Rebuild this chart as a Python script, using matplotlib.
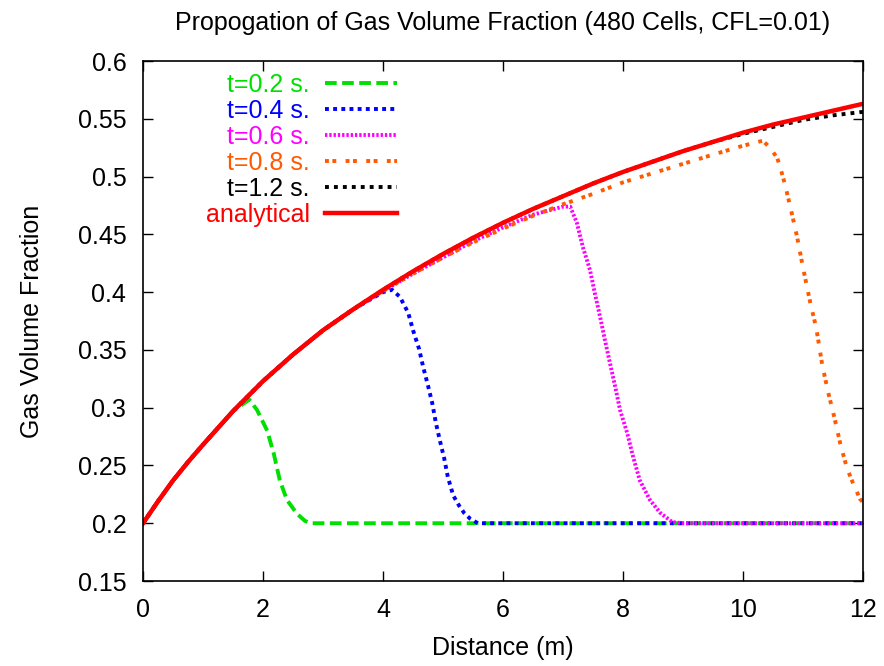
import matplotlib
matplotlib.use("Agg")
import matplotlib.pyplot as plt

plt.rcParams['font.family'] = ['Liberation Sans', 'DejaVu Sans']

# analytical profile
x_an = [0, 0.25, 0.5, 0.75, 1, 1.5, 2, 2.5, 3, 3.5, 4, 4.5, 5, 5.5, 6, 6.5,
        7, 7.5, 8, 8.5, 9, 9.5, 10, 10.5, 11, 11.5, 12]
y_an = [0.2, 0.219, 0.237, 0.253, 0.268, 0.297, 0.323, 0.346, 0.367, 0.385,
        0.402, 0.418, 0.433, 0.447, 0.460, 0.472, 0.483, 0.494, 0.504, 0.513,
        0.522, 0.530, 0.538, 0.545, 0.551, 0.557, 0.563]

# t=0.2 s
x_02 = [0, 0.25, 0.5, 0.75, 1, 1.5, 1.77, 1.9, 2.07, 2.18, 2.28, 2.4, 2.57,
        2.7, 2.8, 4, 6, 8, 10, 12]
y_02 = [0.2, 0.219, 0.237, 0.253, 0.268, 0.297, 0.307, 0.298, 0.28, 0.26,
        0.237, 0.22, 0.208, 0.202, 0.2, 0.2, 0.2, 0.2, 0.2, 0.2]

# t=0.4 s
x_04 = [0, 0.25, 0.5, 0.75, 1, 1.5, 2, 2.5, 3, 3.5, 4, 4.15, 4.28, 4.42,
        4.5, 4.6, 4.67, 4.75, 4.82, 4.88, 4.95, 5.02, 5.08, 5.17, 5.27, 5.35,
        5.45, 5.58, 6, 8, 10, 12]
y_04 = [0.2, 0.219, 0.237, 0.253, 0.268, 0.297, 0.323, 0.346, 0.367, 0.385,
        0.400, 0.402, 0.396, 0.382, 0.367, 0.351, 0.335, 0.319, 0.304, 0.287,
        0.271, 0.256, 0.240, 0.224, 0.215, 0.209, 0.204, 0.2, 0.2, 0.2, 0.2, 0.2]

# t=0.6 s
x_06 = [0, 0.25, 0.5, 0.75, 1, 1.5, 2, 2.5, 3, 3.5, 4, 4.5, 5, 5.5, 6, 6.5,
        7, 7.12, 7.23, 7.33, 7.45, 7.53, 7.62, 7.7, 7.78, 7.87, 7.95, 8.07,
        8.17, 8.28, 8.45, 8.62, 8.82, 9, 10, 12]
y_06 = [0.2, 0.219, 0.237, 0.253, 0.268, 0.297, 0.323, 0.346, 0.367, 0.385,
        0.401, 0.416, 0.430, 0.444, 0.456, 0.467, 0.474, 0.474, 0.460, 0.439,
        0.419, 0.399, 0.378, 0.358, 0.339, 0.318, 0.298, 0.278, 0.257, 0.237,
        0.220, 0.209, 0.201, 0.2, 0.2, 0.2]

# t=0.8 s
x_08 = [0, 0.25, 0.5, 0.75, 1, 1.5, 2, 2.5, 3, 3.5, 4, 4.5, 5, 5.5, 6, 6.5,
        7, 7.5, 8, 8.5, 9, 9.5, 9.92, 10.17, 10.33, 10.45, 10.57, 10.62, 10.7,
        10.8, 10.9, 11.0, 11.12, 11.22, 11.32, 11.42, 11.52, 11.62, 11.73,
        11.83, 11.95, 12]
y_08 = [0.2, 0.219, 0.237, 0.253, 0.268, 0.297, 0.323, 0.346, 0.367, 0.385,
        0.401, 0.416, 0.430, 0.443, 0.455, 0.466, 0.476, 0.485, 0.495, 0.503,
        0.511, 0.519, 0.5255, 0.529, 0.531, 0.525, 0.516, 0.508, 0.493,
        0.471, 0.448, 0.421, 0.391, 0.369, 0.337, 0.313, 0.292, 0.269, 0.248,
        0.235, 0.221, 0.218]

# t=1.2 s
x_12 = [0, 0.25, 0.5, 0.75, 1, 1.5, 2, 2.5, 3, 3.5, 4, 4.5, 5, 5.5, 6, 6.5,
        7, 7.5, 8, 8.5, 9, 9.5, 10, 10.5, 11, 11.5, 12]
y_12 = [0.2, 0.219, 0.237, 0.253, 0.268, 0.297, 0.323, 0.346, 0.367, 0.385,
        0.402, 0.418, 0.433, 0.447, 0.460, 0.472, 0.483, 0.494, 0.504, 0.513,
        0.522, 0.530, 0.537, 0.543, 0.549, 0.553, 0.556]

fig = plt.figure(figsize=(8.84, 6.66), dpi=100)
ax = fig.add_axes([0.1618, 0.1276, 0.8145, 0.7808])

fs = 18
ax.plot(x_02, y_02, color='#00e000', lw=2.8, dashes=(3, 1.4), label='t=0.2 s.')
ax.plot(x_04, y_04, color='#0000ff', lw=2.8, dashes=(1, 1.1), label='t=0.4 s.')
ax.plot(x_06, y_06, color='#ff00ff', lw=2.8, dashes=(0.6, 0.5), label='t=0.6 s.')
ax.plot(x_08, y_08, color='#ff5a00', lw=2.8, dashes=(1, 0.9, 1, 2.4), label='t=0.8 s.')
ax.plot(x_12, y_12, color='black', lw=2.8, dashes=(1, 1.3), label='t=1.2 s.')
ax.plot(x_an, y_an, color='#ff0000', lw=3.2, label='analytical')

ax.set_xlim(0, 12)
ax.set_ylim(0.15, 0.6)
ax.set_xticks([0, 2, 4, 6, 8, 10, 12])
yt = [0.15, 0.2, 0.25, 0.3, 0.35, 0.4, 0.45, 0.5, 0.55, 0.6]
ax.set_yticks(yt)
ax.set_yticklabels(['%g' % v for v in yt])
ax.tick_params(direction='in', length=7, width=1, top=True, right=True,
               labelsize=fs, pad=12)
for s in ax.spines.values():
    s.set_linewidth(1.2)

ax.set_xlabel('Distance (m)', fontsize=fs, labelpad=10)
ax.set_ylabel('Gas Volume Fraction', fontsize=fs, labelpad=24)
ax.set_title('Propogation of Gas Volume Fraction (480 Cells, CFL=0.01)',
             fontsize=fs, pad=22)

leg = ax.legend(loc='upper right', bbox_to_anchor=(0.353, 0.977),
                frameon=False, markerfirst=False, labelcolor='linecolor',
                fontsize=fs, handlelength=2.9, handletextpad=0.6,
                labelspacing=0.08, borderpad=0, borderaxespad=0)

fig.savefig('out.png', dpi=100)
